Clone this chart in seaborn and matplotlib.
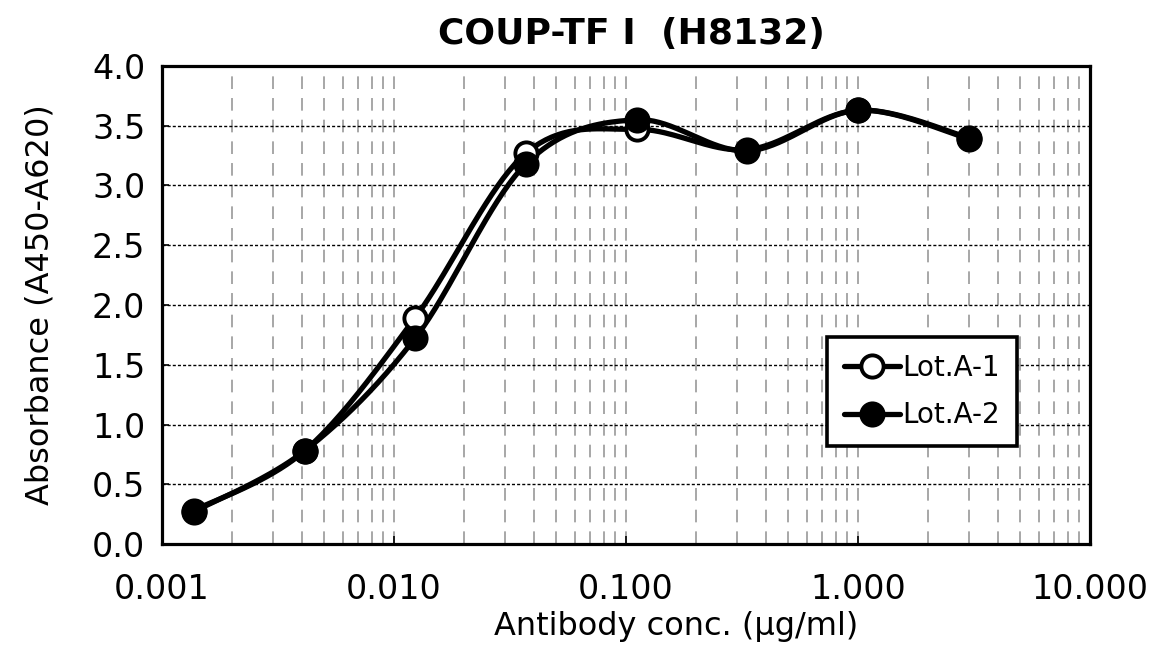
import numpy as np
import pandas as pd
import matplotlib
matplotlib.use("Agg")
import matplotlib.pyplot as plt
from matplotlib.lines import Line2D
from matplotlib.ticker import LogLocator, FixedLocator, FixedFormatter, NullFormatter
import seaborn as sns

# data (3-fold dilution series)
conc = [0.00137, 0.00412, 0.0123, 0.037, 0.111, 0.333, 1.0, 3.0]
lot_a1 = [0.28, 0.78, 1.89, 3.27, 3.47, 3.30, 3.63, 3.39]
lot_a2 = [0.27, 0.78, 1.72, 3.18, 3.55, 3.29, 3.63, 3.40]
series_names = ["Lot.A-1", "Lot.A-2"]

x_ticks = [0.001, 0.01, 0.1, 1, 10]
x_tick_labels = ["0.001", "0.010", "0.100", "1.000", "10.000"]
y_ticks = [0.0, 0.5, 1.0, 1.5, 2.0, 2.5, 3.0, 3.5, 4.0]
y_tick_labels = ["0.0", "0.5", "1.0", "1.5", "2.0", "2.5", "3.0", "3.5", "4.0"]

title = "COUP-TF I  (H8132)"
x_label = "Antibody conc. (µg/ml)"
y_label = "Absorbance (A450-A620)"


def smooth_curve(xs, ys, n=40):
    # Excel-style smoothed line: Catmull-Rom bezier in log-x / y space
    p = np.column_stack([np.log10(xs), ys])
    ext = np.vstack([p[0], p, p[-1]])
    out = []
    for i in range(len(p) - 1):
        p0, p1, p2, p3 = ext[i], ext[i + 1], ext[i + 2], ext[i + 3]
        c1 = p1 + (p2 - p0) / 6
        c2 = p2 - (p3 - p1) / 6
        t = np.linspace(0, 1, n)[:, None]
        seg = (1 - t) ** 3 * p1 + 3 * (1 - t) ** 2 * t * c1 + 3 * (1 - t) * t ** 2 * c2 + t ** 3 * p2
        out.append(seg if i == 0 else seg[1:])
    out = np.vstack(out)
    return pd.DataFrame({"x": 10 ** out[:, 0], "y": out[:, 1]})


sns.set_theme(style="white")
plt.rcParams["font.family"] = ["DejaVu Sans"]
plt.rcParams["text.color"] = "black"
plt.rcParams["axes.labelcolor"] = "black"
plt.rcParams["xtick.color"] = "black"
plt.rcParams["ytick.color"] = "black"

fig = plt.figure(figsize=(11.54, 6.52), dpi=100)
ax = fig.add_axes([0.1404, 0.1656, 0.8042, 0.7332])
ax.set_xscale("log")

lw = 3.8
ms = 16
mew = 2.8
face = ["white", "black"]
for name, vals, fc in zip(series_names, [lot_a1, lot_a2], face):
    sm = smooth_curve(conc, vals)
    sns.lineplot(data=sm, x="x", y="y", sort=False, estimator=None, ax=ax,
                 color="black", lw=lw, zorder=3)
    sns.lineplot(x=conc, y=vals, ax=ax, marker="o", linestyle="", ms=ms,
                 mfc=fc, mec="black", mew=mew, zorder=4, estimator=None, sort=False)

ax.set_xlim(0.001, 10)
ax.set_ylim(0, 4)

ax.xaxis.set_major_locator(FixedLocator(x_ticks))
ax.xaxis.set_major_formatter(FixedFormatter(x_tick_labels))
ax.xaxis.set_minor_locator(LogLocator(base=10, subs=np.arange(2, 10)))
ax.xaxis.set_minor_formatter(NullFormatter())
ax.yaxis.set_major_locator(FixedLocator(y_ticks))
ax.yaxis.set_major_formatter(FixedFormatter(y_tick_labels))

ax.tick_params(axis="x", which="major", direction="in", length=6, width=1.2,
               labelsize=24, pad=21, bottom=True)
ax.tick_params(axis="x", which="minor", length=0)
ax.tick_params(axis="y", which="major", direction="in", length=5, width=1.2,
               labelsize=24, pad=12, left=True)

ax.grid(True, axis="x", which="both", color="#a0a0a0", lw=1.3, linestyle=(0, (7, 5)))
ax.grid(True, axis="y", which="major", color="black", lw=1.0, linestyle=(0, (2.2, 1.5)))
ax.set_axisbelow(True)

for s in ax.spines.values():
    s.set_visible(True)
    s.set_color("black")
    s.set_linewidth(2.3)

ax.set_xlabel(x_label, fontsize=23, va="center")
ax.xaxis.set_label_coords(0.554, -0.172)
ax.set_ylabel(y_label, fontsize=23, labelpad=26)
fig.text(0.547, 1 - 34 / 652, title, fontsize=26, fontweight="bold",
         ha="center", va="center")

handles = [Line2D([], [], color="black", lw=lw, marker="o", ms=ms, mfc=fc,
                  mec="black", mew=mew) for fc in face]
leg = ax.legend(handles, series_names, loc="center",
                bbox_to_anchor=(0.711, 0.211, 0.216, 0.216), fontsize=20,
                frameon=True, fancybox=False, edgecolor="black", framealpha=1,
                borderpad=0.6, labelspacing=0.7, handlelength=2.0,
                handletextpad=0.1, numpoints=1)
leg.get_frame().set_linewidth(2.6)

fig.savefig("out.png", dpi=100)
